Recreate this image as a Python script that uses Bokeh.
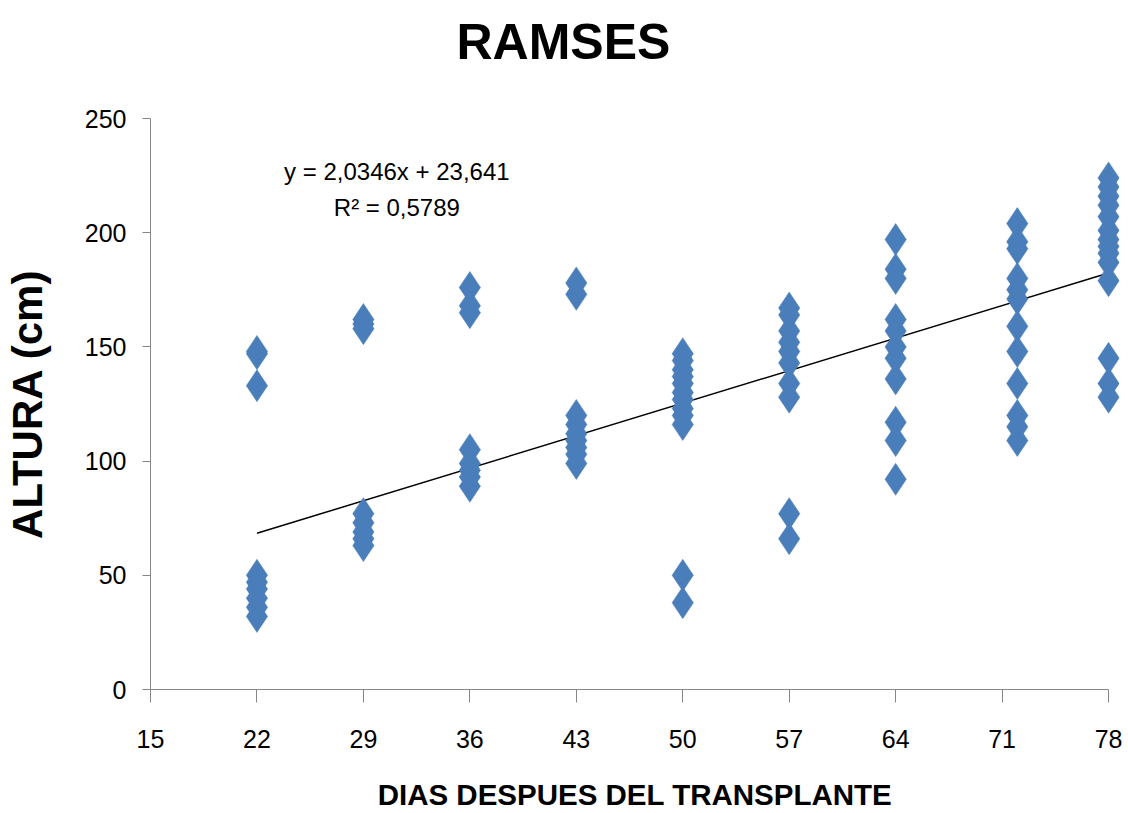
from bokeh.plotting import figure
from bokeh.models import Range1d, FixedTicker, Label, Title
from bokeh.embed import file_html
from bokeh.resources import INLINE

# ---- data ----
dias = [22, 29, 36, 43, 50, 57, 64, 72, 78]
alt_22 = [148, 147, 133, 50, 47, 44, 40, 36, 32]
alt_29 = [162, 160, 158, 77, 73, 69, 66, 63]
alt_36 = [176, 168, 165, 105, 99, 96, 93, 89]
alt_43 = [178, 173, 120, 116, 112, 109, 106, 103, 99]
alt_50 = [147, 144, 140, 137, 134, 130, 127, 123, 120, 116, 50, 38]
alt_57 = [167, 164, 157, 152, 148, 143, 134, 128, 77, 66]
alt_64 = [197, 184, 180, 162, 157, 150, 145, 136, 117, 109, 92]
alt_72 = [204, 196, 193, 180, 175, 171, 159, 148, 134, 120, 115, 109]
alt_78 = [224, 220, 216, 212, 207, 201, 197, 194, 191, 187, 179, 145, 134, 128]
alturas = [alt_22, alt_29, alt_36, alt_43, alt_50, alt_57, alt_64, alt_72, alt_78]

x_ticks = [15, 22, 29, 36, 43, 50, 57, 64, 71, 78]
y_ticks = [0, 50, 100, 150, 200, 250]

pendiente = 2.0346
intercepto = 23.641
ecuacion = "y = 2,0346x + 23,641"
r2_texto = "R\u00b2 = 0,5789"
titulo = "RAMSES"
x_titulo = "DIAS DESPUES DEL TRANSPLANTE"
y_titulo = "ALTURA (cm)"

xs, ys = [], []
for d, vals in zip(dias, alturas):
    for v in vals:
        xs.append(d)
        ys.append(v)

FONT = "'Liberation Sans', Arial, sans-serif"

p = figure(width=1128, height=813, output_backend="svg", toolbar_location=None,
           x_range=Range1d(15, 78.72), y_range=Range1d(0, 250),
           min_border_left=150, min_border_right=9, min_border_top=118, min_border_bottom=123)
p.outline_line_color = None
p.xgrid.visible = False
p.ygrid.visible = False
p.background_fill_color = "white"

# empty spacer panel between the title and the frame
p.add_layout(Title(text=" ", text_font_size="1px", standoff=46), "above")

# title
p.title.text = titulo
p.title.text_font = FONT
p.title.text_font_size = "50px"
p.title.text_font_style = "bold"
p.title.align = "left"
p.title.offset = 306
p.title.standoff = 0
p.title.text_color = "black"

# axes
for ax in (p.xaxis[0], p.yaxis[0]):
    ax.axis_line_color = "#868686"
    ax.major_tick_line_color = "#868686"
    ax.minor_tick_line_color = None
    ax.major_tick_in = 0
    ax.major_label_text_font = FONT
    ax.major_label_text_font_size = "25px"
    ax.major_label_text_color = "black"
    ax.axis_label_text_color = "black"
    ax.axis_label_text_font_style = "bold"
    ax.axis_label_text_font = FONT

xa = p.xaxis[0]
xa.ticker = FixedTicker(ticks=x_ticks)
xa.bounds = (15, 78)
xa.major_tick_out = 13
xa.major_label_standoff = 27
xa.axis_label = x_titulo
xa.axis_label_text_font_size = "29.5px"
xa.axis_label_standoff = 27

ya = p.yaxis[0]
ya.ticker = FixedTicker(ticks=y_ticks)
ya.bounds = (0, 250)
ya.major_tick_out = 8
ya.major_label_standoff = 16
ya.axis_label = y_titulo
ya.axis_label_text_font_size = "42px"
ya.axis_label_standoff = 31

# trend line
tx = [dias[0], dias[-1]]
ty = [pendiente * v + intercepto for v in tx]
p.line(tx, ty, line_color="black", line_width=1.5)

# points
p.scatter(xs, ys, marker="diamond", size=32, fill_color="#4A7EBB",
          line_color="#4A7EBB", line_width=0.5)

# equation labels
p.add_layout(Label(x=31.2, y=226.8, text=ecuacion, text_font=FONT, text_font_size="24px",
                   text_align="center", text_baseline="middle", text_color="black"))
p.add_layout(Label(x=31.2, y=211.0, text=r2_texto, text_font=FONT, text_font_size="24px",
                   text_align="center", text_baseline="middle", text_color="black"))

open("out.html", "w").write(file_html(p, INLINE))
